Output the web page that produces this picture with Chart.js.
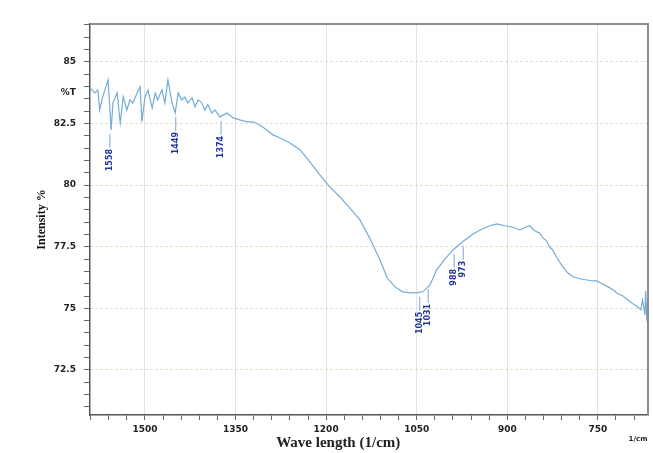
<!DOCTYPE html>
<html>
<head>
<meta charset="utf-8">
<script src="https://cdn.jsdelivr.net/npm/chart.js@4.4.1/dist/chart.umd.min.js"></script>
<style>
    html, body { margin: 0; padding: 0; background: #fff; }
    .chart-wrap { width: 653px; height: 453px; }
</style>
</head>
<body>
<div class="chart-wrap">
    <canvas id="Canvas" width="653" height="453"></canvas>
</div>
<script>
// spectrum (wave number 1/cm, %T)
const waveNumbers = [1591,1583,1578,1575,1570,1561,1556,1553,1546,1541,1536,1530,1525,1520,1513,1508,1505,1500,1495,1488,
    1483,1479,1472,1467,1462,1455,1450,1445,1439,1434,1429,1422,1417,1412,1406,1401,1396,1389,1384,1376,
    1364,1354,1343,1331,1321,1310,1298,1288,1277,1260,1243,1227,1210,1194,1177,1161,1144,1128,1111,1099,
    1086,1073,1061,1050,1040,1028,1017,1003,990,974,959,945,929,917,904,892,879,869,863,856,
    851,846,841,835,830,825,818,808,800,791,780,768,758,752,742,733,725,717,709,700,
    692,684,679,676,672,671,669,667];
const intensity = [83.95,83.74,83.86,83.05,83.58,84.27,82.24,83.34,83.74,82.53,83.58,83.05,83.46,83.34,83.74,83.99,82.57,83.58,83.86,83.13,
    83.74,83.46,83.86,83.34,84.27,83.34,82.93,83.74,83.46,83.58,83.34,83.54,83.17,83.46,83.34,83.05,83.26,82.93,83.05,82.77,
    82.93,82.73,82.65,82.57,82.57,82.44,82.24,82.04,81.92,81.71,81.43,80.94,80.41,79.93,79.52,79.08,78.59,77.86,76.97,76.24,
    75.87,75.67,75.63,75.63,75.67,75.95,76.56,77.01,77.37,77.70,77.98,78.18,78.35,78.43,78.35,78.30,78.18,78.30,78.35,78.18,
    78.10,78.06,77.86,77.74,77.49,77.37,77.05,76.68,76.44,76.28,76.20,76.15,76.11,76.11,75.99,75.87,75.75,75.59,75.51,75.34,
    75.18,75.06,74.94,75.34,74.73,75.71,74.61,74.86];

// picked peaks
const peakWaves = [1558, 1449, 1374, 1045, 1031, 988, 973];
const peakLabels = ['1558', '1449', '1374', '1045', '1031', '988', '973'];

// axis ticks
const xMajorTicks = [1500, 1350, 1200, 1050, 900, 750];
const yMajorTicks = [72.5, 75, 77.5, 80, 82.5, 85];

const xMin = 667, xMax = 1591;
const yMin = 70.67, yMax = 86.54;

const isMajor = (v, list) => list.some(m => Math.abs(m - v) < 1e-6);

const tickFont = { family: 'DejaVu Sans', size: 9, weight: 'bold' };

const chartDecor = {
    id: 'chartDecor',
    afterDraw(chart) {
        const ctx = chart.ctx;
        const { left, right, top, bottom } = chart.chartArea;
        const xs = chart.scales.x, ys = chart.scales.y;

        // top / right frame
        ctx.save();
        ctx.strokeStyle = '#8c8c8c';
        ctx.lineWidth = 2;
        ctx.beginPath();
        ctx.moveTo(left, top);
        ctx.lineTo(right, top);
        ctx.lineTo(right, bottom);
        ctx.stroke();

        // peak markers
        ctx.strokeStyle = '#7fa3d6';
        ctx.lineWidth = 1;
        ctx.fillStyle = '#22379a';
        ctx.font = 'bold 8px "DejaVu Sans"';
        peakWaves.forEach((w, i) => {
            let k = 0;
            waveNumbers.forEach((v, j) => { if (Math.abs(v - w) < Math.abs(waveNumbers[k] - w)) k = j; });
            const px = xs.getPixelForValue(w);
            const py = ys.getPixelForValue(intensity[k]) + 4;
            ctx.beginPath();
            ctx.moveTo(px, py);
            ctx.lineTo(px, py + 14);
            ctx.stroke();
            ctx.save();
            ctx.translate(px, py + 15);
            ctx.rotate(-Math.PI / 2);
            ctx.textAlign = 'right';
            ctx.textBaseline = 'middle';
            ctx.fillText(peakLabels[i], 0, 0);
            ctx.restore();
        });

        // unit labels
        ctx.fillStyle = '#222';
        ctx.font = 'bold 9px "DejaVu Sans"';
        ctx.textAlign = 'right';
        ctx.textBaseline = 'middle';
        ctx.fillText('%T', left - 14, ys.getPixelForValue(83.75));

        ctx.font = 'bold 7px "DejaVu Sans"';
        ctx.textAlign = 'center';
        ctx.fillText('1/cm', right - 10, bottom + 24);

        ctx.font = 'bold 15px "Liberation Serif"';
        ctx.fillText('Wave length (1/cm)', xs.getPixelForValue(1180), bottom + 28);
        ctx.restore();
    }
};

const ctx = document.getElementById('Canvas').getContext('2d');

const config = {
    type: 'line',
    data: {
        datasets: [{
            label: '%T',
            data: waveNumbers.map((w, i) => ({ x: w, y: intensity[i] })),
            borderColor: '#72acdb',
            backgroundColor: 'transparent',
            borderWidth: 1.2,
            pointRadius: 0,
            tension: 0
        }]
    },
    options: {
        responsive: false,
        animation: false,
        layout: { padding: { top: 24, right: 5, left: 0, bottom: 0 } },
        plugins: {
            legend: { display: false },
            tooltip: { enabled: false }
        },
        scales: {
            x: {
                type: 'linear',
                reverse: true,
                min: xMin,
                max: xMax,
                afterBuildTicks(scale) {
                    const t = [];
                    for (let v = 690; v <= 1590; v += 30) t.push({ value: v });
                    scale.ticks = t;
                },
                afterFit(scale) { scale.height = 38; },
                ticks: {
                    autoSkip: false,
                    maxRotation: 0,
                    padding: 4,
                    color: '#222',
                    font: tickFont,
                    callback: v => isMajor(v, xMajorTicks) ? String(v) : ''
                },
                grid: {
                    color: c => c.tick && isMajor(c.tick.value, xMajorTicks) ? '#e2e2e2' : 'transparent',
                    tickColor: '#666',
                    tickLength: 5,
                    lineWidth: 1
                },
                border: { color: '#555', width: 1.5 }
            },
            y: {
                min: yMin,
                max: yMax,
                afterBuildTicks(scale) {
                    const t = [];
                    for (let v = 71; v <= 86.5; v += 0.5) t.push({ value: v });
                    scale.ticks = t;
                },
                afterFit(scale) { scale.width = 90; },
                ticks: {
                    autoSkip: false,
                    padding: 8,
                    color: '#222',
                    font: tickFont,
                    callback: v => isMajor(v, yMajorTicks) ? String(v) : ''
                },
                grid: {
                    color: c => c.tick && isMajor(c.tick.value, yMajorTicks) ? '#d8d2ad' : 'transparent',
                    tickColor: '#666',
                    tickLength: 6,
                    lineWidth: 1
                },
                border: { color: '#555', width: 1.5, dash: [2, 3] },
                title: {
                    display: true,
                    text: 'Intensity %',
                    color: '#111',
                    font: { family: 'Liberation Serif', size: 12, weight: 'bold' },
                    padding: { top: 35, bottom: 0 }
                }
            }
        }
    },
    plugins: [chartDecor]
};

let chartSpec = new Chart(ctx, config);
</script>
</body>
</html>
